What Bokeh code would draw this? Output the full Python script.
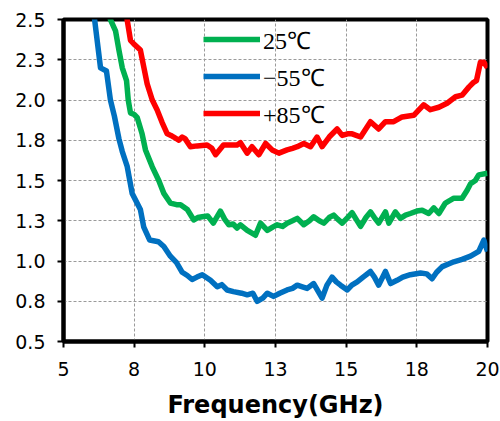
from bokeh.plotting import figure
from bokeh.models import Range1d, FixedTicker, Legend, LegendItem
from bokeh.embed import file_html
from bokeh.resources import INLINE

# -55 C series
freq_m55 = [6.0, 6.10, 6.31, 6.52, 6.66, 6.80, 6.96, 7.08, 7.25, 7.43, 7.72, 7.84, 8.05, 8.36, 8.55,
            8.78, 9.00, 9.20, 9.38, 9.55, 9.72, 9.91, 10.20, 10.44, 10.60, 10.79, 11.01, 11.30, 11.50,
            11.70, 11.85, 12.05, 12.21, 12.43, 12.65, 12.91, 13.10, 13.27, 13.45, 13.62, 13.85, 14.15,
            14.32, 14.50, 14.65, 14.80, 15.04, 15.20, 15.39, 15.60, 15.86, 16.00, 16.15, 16.39, 16.57,
            16.80, 17.00, 17.27, 17.63, 17.85, 18.04, 18.20, 18.40, 18.60, 18.81, 19.10, 19.40, 19.69,
            19.87, 20.0]
nf_m55 = [2.64, 2.50, 2.20, 2.18, 2.00, 1.90, 1.76, 1.68, 1.59, 1.42, 1.32, 1.21, 1.13, 1.12, 1.09,
          1.03, 0.99, 0.93, 0.91, 0.885, 0.90, 0.915, 0.88, 0.84, 0.853, 0.82, 0.81, 0.80, 0.79,
          0.80, 0.75, 0.77, 0.80, 0.78, 0.80, 0.82, 0.83, 0.85, 0.84, 0.83, 0.86, 0.77,
          0.85, 0.90, 0.87, 0.85, 0.82, 0.85, 0.87, 0.90, 0.935, 0.90, 0.85, 0.935, 0.86,
          0.88, 0.90, 0.915, 0.925, 0.92, 0.89, 0.93, 0.965, 0.98, 0.995, 1.01, 1.03, 1.06,
          1.13, 1.06]

# 25 C series
freq_25 = [6.60, 6.66, 6.84, 6.96, 7.08, 7.23, 7.29, 7.37, 7.50, 7.61, 7.78, 7.90, 8.14, 8.37, 8.55,
           8.78, 9.00, 9.14, 9.38, 9.61, 9.75, 9.91, 10.10, 10.30, 10.55, 10.70, 10.85, 11.00, 11.14,
           11.26, 11.50, 11.79, 11.97, 12.21, 12.40, 12.56, 12.75, 12.91, 13.10, 13.27, 13.50, 13.70,
           13.85, 14.05, 14.21, 14.40, 14.56, 14.70, 14.86, 15.05, 15.21, 15.35, 15.51, 15.70, 15.86,
           16.00, 16.15, 16.39, 16.51, 16.74, 16.92, 17.10, 17.27, 17.50, 17.69, 17.92, 18.10, 18.28,
           18.51, 18.81, 19.10, 19.28, 19.40, 19.57, 19.69, 20.0]
nf_25 = [2.56, 2.50, 2.43, 2.31, 2.20, 2.12, 2.00, 1.92, 1.91, 1.89, 1.79, 1.69, 1.585, 1.50, 1.42,
         1.36, 1.35, 1.35, 1.32, 1.255, 1.27, 1.275, 1.28, 1.235, 1.31, 1.26, 1.225, 1.23, 1.205,
         1.225, 1.19, 1.16, 1.235, 1.19, 1.21, 1.225, 1.215, 1.235, 1.25, 1.265, 1.225, 1.25,
         1.275, 1.25, 1.235, 1.27, 1.285, 1.26, 1.235, 1.27, 1.30, 1.26, 1.215, 1.27, 1.305,
         1.27, 1.235, 1.305, 1.235, 1.305, 1.265, 1.285, 1.295, 1.31, 1.315, 1.295, 1.33, 1.295,
         1.36, 1.39, 1.39, 1.44, 1.48, 1.50, 1.535, 1.545]

# +85 C series
freq_85 = [7.24, 7.25, 7.37, 7.48, 7.72, 7.84, 7.96, 8.14, 8.31, 8.49, 8.67, 8.80, 8.90, 9.08, 9.20,
           9.30, 9.49, 9.73, 10.08, 10.25, 10.38, 10.66, 10.90, 11.14, 11.26, 11.50, 11.67, 11.91,
           12.15, 12.38, 12.62, 12.91, 13.10, 13.27, 13.50, 13.74, 13.97, 14.15, 14.40, 14.68, 14.86,
           15.05, 15.21, 15.51, 15.86, 16.15, 16.39, 16.68, 16.98, 17.39, 17.74, 17.98, 18.28, 18.57,
           18.87, 19.10, 19.34, 19.51, 19.61, 19.75, 19.87, 20.0]
nf_85 = [2.62, 2.50, 2.37, 2.35, 2.31, 2.205, 2.10, 2.00, 1.94, 1.86, 1.79, 1.78, 1.77, 1.75, 1.77,
         1.76, 1.71, 1.715, 1.72, 1.70, 1.66, 1.72, 1.72, 1.72, 1.735, 1.67, 1.71, 1.66,
         1.73, 1.69, 1.67, 1.69, 1.70, 1.71, 1.73, 1.71, 1.77, 1.71, 1.77, 1.82, 1.78,
         1.79, 1.79, 1.77, 1.865, 1.82, 1.865, 1.865, 1.895, 1.905, 1.97, 1.94, 1.955, 1.98,
         2.02, 2.03, 2.08, 2.11, 2.12, 2.235, 2.235, 2.20]

series_labels = ["25℃", "−55℃", "+85℃"]
series_colors = ["#00B050", "#0070C0", "#FF0000"]

x_ticks = [5.0, 7.5, 10.0, 12.5, 15.0, 17.5, 20.0]
x_tick_labels = ["5", "8", "10", "13", "15", "18", "20"]
y_ticks = [0.5, 0.75, 1.0, 1.25, 1.5, 1.75, 2.0, 2.25, 2.5]
y_tick_labels = ["0.5", "0.8", "1.0", "1.3", "1.5", "1.8", "2.0", "2.3", "2.5"]
x_label = "Frequency(GHz)"

p = figure(width=500, height=421, output_backend="svg", toolbar_location=None, title=None,
           x_range=Range1d(5, 20), y_range=Range1d(0.5, 2.5),
           min_border_left=63, min_border_right=13, min_border_top=19, min_border_bottom=79)
p.background_fill_color = "white"
p.border_fill_color = "white"
p.outline_line_color = "black"
p.outline_line_width = 4
p.outline_line_alpha = 1.0

p.xaxis.ticker = FixedTicker(ticks=x_ticks)
p.yaxis.ticker = FixedTicker(ticks=y_ticks)
p.xaxis.major_label_overrides = dict(zip(x_ticks, x_tick_labels))
p.yaxis.major_label_overrides = dict(zip(y_ticks, y_tick_labels))

for ax in (p.xaxis[0], p.yaxis[0]):
    ax.axis_line_color = "black"
    ax.axis_line_width = 4
    ax.major_tick_line_color = "black"
    ax.major_tick_line_width = 2
    ax.major_tick_out = 6
    ax.major_tick_in = 0
    ax.minor_tick_out = 0
    ax.minor_tick_in = 0
    ax.major_label_text_font = "DejaVu Sans"
    ax.major_label_text_font_size = "19px"
    ax.major_label_text_color = "black"

p.xaxis.major_label_standoff = 14
p.yaxis.major_label_standoff = 12
p.xaxis.axis_label = x_label
p.xaxis.axis_label_text_font = "DejaVu Sans"
p.xaxis.axis_label_text_font_style = "bold"
p.xaxis.axis_label_text_font_size = "24px"
p.xaxis.axis_label_text_color = "black"
p.xaxis.axis_label_standoff = 12

for g in (p.xgrid[0], p.ygrid[0]):
    g.grid_line_color = "#9a9a9a"
    g.grid_line_dash = "3 2"
    g.grid_line_width = 1

r_g = p.line(freq_25, nf_25, line_color=series_colors[0], line_width=5.5, line_join="round")
r_b = p.line(freq_m55, nf_m55, line_color=series_colors[1], line_width=5.5, line_join="round")
r_r = p.line(freq_85, nf_85, line_color=series_colors[2], line_width=5.5, line_join="round")

legend = Legend(items=[LegendItem(label=series_labels[0], renderers=[r_g]),
                       LegendItem(label=series_labels[1], renderers=[r_b]),
                       LegendItem(label=series_labels[2], renderers=[r_r])],
                location=(140, 211), glyph_width=57, glyph_height=34, label_height=34,
                spacing=3, padding=0, margin=0, label_standoff=3,
                label_text_font="Liberation Serif", label_text_font_size="24px",
                label_text_color="black",
                background_fill_alpha=0, border_line_alpha=0)
p.add_layout(legend)

open("out.html", "w").write(file_html(p, INLINE))
